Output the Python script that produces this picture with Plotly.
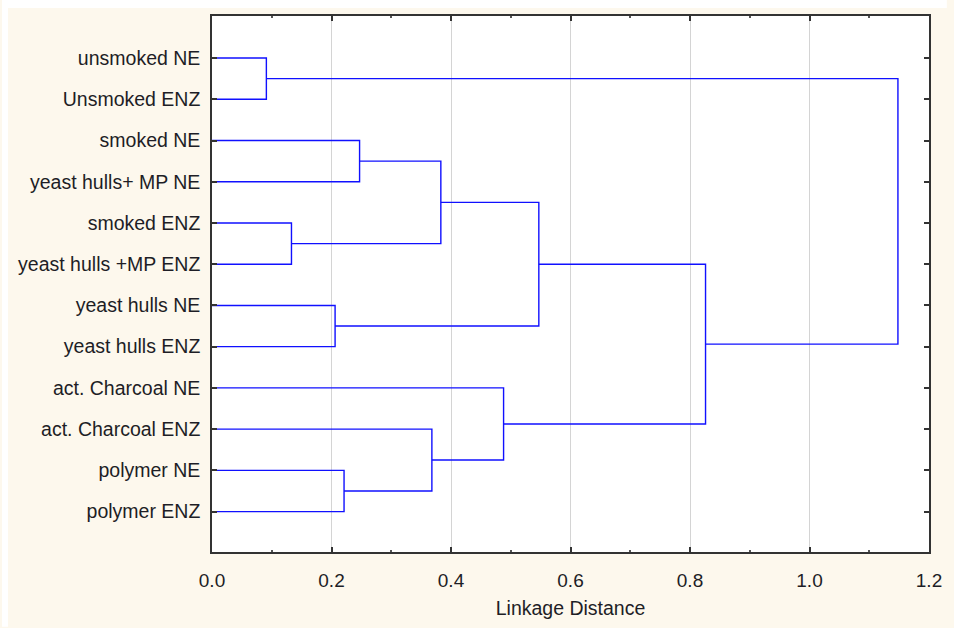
import plotly.graph_objects as go

# Leaf labels in display order (top to bottom)
labels = [
    "unsmoked NE",
    "Unsmoked ENZ",
    "smoked NE",
    "yeast hulls+ MP NE",
    "smoked ENZ",
    "yeast hulls +MP ENZ",
    "yeast hulls NE",
    "yeast hulls ENZ",
    "act. Charcoal NE",
    "act. Charcoal ENZ",
    "polymer NE",
    "polymer ENZ",
]

# Linkage steps: nodes 0..11 are leaves, each merge creates node 12, 13, ...
merge_left = [0, 4, 6, 10, 2, 9, 16, 8, 18, 20, 12]
merge_right = [1, 5, 7, 11, 3, 15, 13, 17, 14, 19, 21]
merge_dist = [0.091, 0.133, 0.206, 0.221, 0.247, 0.368, 0.383, 0.488, 0.547, 0.826, 1.148]

x_ticks = [0.0, 0.2, 0.4, 0.6, 0.8, 1.0, 1.2]
x_ticktext = ["0.0", "0.2", "0.4", "0.6", "0.8", "1.0", "1.2"]

CREAM = "#fdf8ed"
INK = "#1e1e26"
FONT = "Liberation Sans, Arial, sans-serif"

# Node positions: (height, vertical position)
n_leaves = len(labels)
node_h = [0.0] * n_leaves
node_y = list(range(n_leaves))

xs, ys = [], []
for a, b, d in zip(merge_left, merge_right, merge_dist):
    xs += [node_h[a], d, d, node_h[b], None]
    ys += [node_y[a], node_y[a], node_y[b], node_y[b], None]
    node_h.append(d)
    node_y.append((node_y[a] + node_y[b]) / 2)

fig = go.Figure()
fig.add_trace(go.Scatter(
    x=xs, y=ys, mode="lines",
    line=dict(color="#1010ff", width=1.4),
    hoverinfo="skip", showlegend=False,
))

axis_common = dict(
    showline=True, linecolor="#333333", linewidth=1.5, mirror="ticks",
    ticks="inside", tickcolor="#333333", tickwidth=1.5, ticklen=5,
    zeroline=False,
)

fig.update_xaxes(
    range=[0, 1.2], tickvals=x_ticks, ticktext=x_ticktext,
    showgrid=True, gridcolor="#d4d4d4", gridwidth=1,
    minor=dict(dtick=0.1, ticks="inside", ticklen=2, tickcolor="#555555", showgrid=False),
    ticklabelstandoff=10,
    tickfont=dict(family=FONT, size=19, color=INK),
    title=dict(text="Linkage Distance", font=dict(family=FONT, size=19.5, color=INK), standoff=12),
    **axis_common,
)
fig.update_yaxes(
    range=[11.98, -1.02], tickvals=list(range(n_leaves)), ticktext=labels,
    showgrid=False, ticklabelstandoff=6,
    tickfont=dict(family=FONT, size=19.5, color=INK),
    **axis_common,
)

# thin white frame along the left and top edges of the canvas
W, H = 954, 628
L, R, T, B = 212, 18, 16, 75
pw, ph = W - L - R, H - T - B


def px_x(p):
    return (p - L) / pw


def px_y(p):
    return (H - B - p) / ph


fig.add_shape(type="rect", xref="paper", yref="paper",
              x0=px_x(0), x1=px_x(6), y0=px_y(H), y1=px_y(0),
              fillcolor="white", line_width=0, layer="below")
fig.add_shape(type="rect", xref="paper", yref="paper",
              x0=px_x(0), x1=px_x(W), y0=px_y(8), y1=px_y(0),
              fillcolor="white", line_width=0, layer="below")

fig.update_layout(
    width=W, height=H, autosize=False,
    margin=dict(l=L, r=R, t=T, b=B),
    paper_bgcolor=CREAM, plot_bgcolor="white",
    font=dict(family=FONT, color=INK),
)

fig.write_html(
    "out.html",
    post_script="document.body.style.margin='0';"
                "document.body.style.background='" + CREAM + "';",
)
